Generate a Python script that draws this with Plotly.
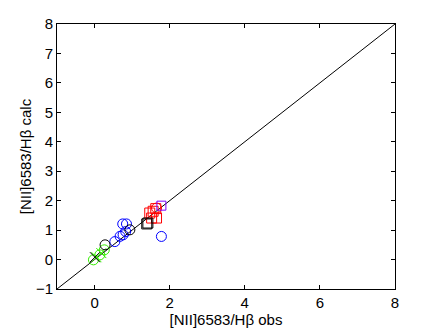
import plotly.graph_objects as go

# observed vs calculated [NII]6583/Hb, one group per colour
green_x = [-0.03, 0.14, 0.26, 0.05, 0.18]
green_y = [-0.01, 0.16, 0.33, 0.08, 0.22]
green_sym = ['circle-open', 'circle-open', 'circle-open', 'x-thin-open', 'x-thin-open']

black_x = [0.01, 0.28, 0.94, 1.39, 1.42]
black_y = [0.08, 0.50, 1.01, 1.21, 1.24]
black_sym = ['x-thin-open', 'circle-open', 'circle-open', 'square-open', 'square-open']

blue_x = [0.54, 0.68, 0.76, 0.75, 0.85, 0.83, 1.78]
blue_y = [0.61, 0.79, 0.84, 1.21, 1.21, 0.95, 0.785]

red_x = [1.47, 1.56, 1.65, 1.52, 1.63, 1.65]
red_y = [1.58, 1.64, 1.41, 1.41, 1.73, 1.75]
red_sym = ['square-open'] * 5 + ['circle-open']

purple_x = [1.78]
purple_y = [1.83]

line_x = [-1, 8]
line_y = [-1, 8]

fig = go.Figure()
fig.add_trace(go.Scatter(x=line_x, y=line_y, mode='lines',
                         line=dict(color='black', width=1)))
fig.add_trace(go.Scatter(x=blue_x, y=blue_y, mode='markers',
                         marker=dict(symbol='circle-open', size=10, color='blue', line=dict(width=1))))
fig.add_trace(go.Scatter(x=red_x, y=red_y, mode='markers',
                         marker=dict(symbol=red_sym, size=10, color='red', line=dict(width=1))))
fig.add_trace(go.Scatter(x=purple_x, y=purple_y, mode='markers',
                         marker=dict(symbol='square-open', size=9, color='#7f00ff', line=dict(width=1))))
fig.add_trace(go.Scatter(x=green_x, y=green_y, mode='markers',
                         marker=dict(symbol=green_sym, size=10, color='#33ee00', line=dict(width=1))))
fig.add_trace(go.Scatter(x=black_x, y=black_y, mode='markers',
                         marker=dict(symbol=black_sym, size=10, color='black', line=dict(width=1))))

axis_style = dict(showline=True, linecolor='black', linewidth=1, mirror='ticks',
                  ticks='inside', ticklen=4, tickcolor='black', showgrid=False,
                  zeroline=False, automargin=False, tickfont=dict(size=15, color='black'))

# page body adds an 8px margin, so the figure is 8px smaller and shifted
fig.update_layout(
    width=428, height=320,
    margin=dict(l=49, r=41, t=16, b=39),
    plot_bgcolor='white', paper_bgcolor='white',
    showlegend=False,
    font=dict(family='Liberation Sans, Arial, sans-serif', size=15, color='black'),
    xaxis=dict(range=[-1, 8], tickvals=[0, 2, 4, 6, 8],
               title=dict(text='[NII]6583/Hβ obs', standoff=0, font=dict(size=15)), **axis_style),
    yaxis=dict(range=[-1, 8], dtick=1,
               title=dict(text='[NII]6583/Hβ calc', standoff=0, font=dict(size=15)), **axis_style),
)

fig.write_html("out.html")
